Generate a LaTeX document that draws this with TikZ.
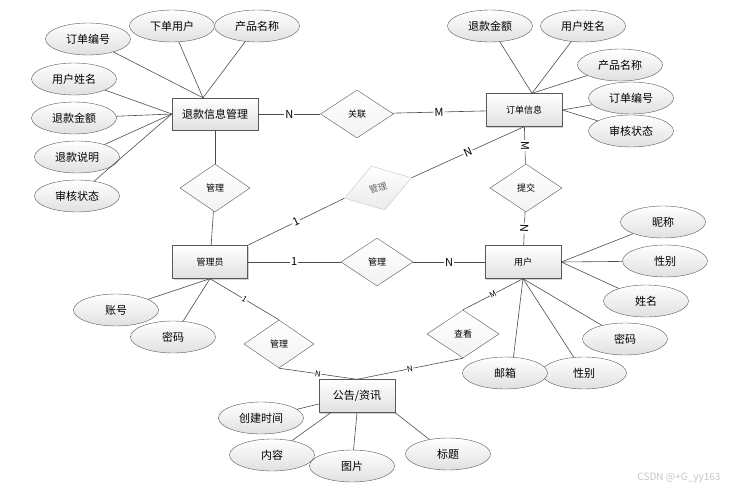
\documentclass[tikz,border=0pt]{standalone}
\usepackage{fontspec}
\setmainfont{Noto Sans CJK SC}
\usetikzlibrary{shapes.geometric, shadows}
\tikzset{
    attr/.style={ellipse, draw=gray!70!black, top color=white, bottom color=black!12,
        minimum width=85pt, minimum height=32pt, inner sep=0pt, font=\fontsize{11}{13}\selectfont},
    entity/.style={rectangle, draw=gray!70!black, top color=white, bottom color=black!12,
        drop shadow={shadow xshift=1.3pt, shadow yshift=-1.3pt, fill=black!35},
        minimum width=76pt, minimum height=33pt, inner sep=0pt, font=\fontsize{9}{11}\selectfont},
    rel/.style={diamond, draw=gray!70!black, top color=white, bottom color=black!5,
        minimum width=72pt, minimum height=48pt, inner sep=0pt, font=\fontsize{9}{11}\selectfont},
    link/.style={draw=gray!60!black, line width=0.6pt},
    card/.style={fill=white, inner sep=1pt, sloped, font=\fontsize{11}{13}\selectfont},
    smallcard/.style={fill=white, inner sep=0.5pt, sloped, font=\fontsize{8}{9}\selectfont},
}
\begin{document}
\begin{tikzpicture}[x=1pt, y=-1pt]
\useasboundingbox (0,0) rectangle (736,492);

% Entitaeten
\node[entity, minimum width=86pt, minimum height=32pt, font=\fontsize{11}{13}\selectfont] (tkxx) at (215,114) {退款信息管理};
\node[entity] (ddxx) at (524,110) {订单信息};
\node[entity, minimum width=75pt] (gly) at (210,262) {管理员};
\node[entity] (yh) at (523,262) {用户};
\node[entity, font=\fontsize{11}{13}\selectfont] (ggzx) at (357,396) {公告/资讯};

% Beziehungen
\node[rel, minimum width=73pt] (guanlian) at (357,114) {关联};
\node[rel, minimum width=70pt] (guanliA) at (215,188) {管理};
\node[rel, minimum width=70pt, minimum height=46pt, rotate=17, draw=gray!45, bottom color=black!8,
    text=gray!80!black] (guanliB) at (378,188) {管理};
\node[rel] (tijiao) at (526,188) {提交};
\node[rel] (guanliC) at (377,262) {管理};
\node[rel, minimum width=70pt] (guanliD) at (279,344) {管理};
\node[rel] (chakan) at (463,334) {查看};

% Attribute: 退款信息管理
\node[attr] (tkDdbh) at (88,39) {订单编号};
\node[attr] (tkXdyh) at (172,26) {下单用户};
\node[attr] (tkCpmc) at (257,26) {产品名称};
\node[attr] (tkYhxm) at (74,79) {用户姓名};
\node[attr] (tkTkje) at (74,118) {退款金额};
\node[attr] (tkTksm) at (77,157) {退款说明};
\node[attr] (tkShzt) at (77,196) {审核状态};

% Attribute: 订单信息
\node[attr] (ddTkje) at (490,26) {退款金额};
\node[attr] (ddYhxm) at (583,26) {用户姓名};
\node[attr] (ddCpmc) at (620,65) {产品名称};
\node[attr] (ddDdbh) at (631,98) {订单编号};
\node[attr] (ddShzt) at (631,131) {审核状态};

% Attribute: 用户
\node[attr] (yhNc) at (663,222) {昵称};
\node[attr] (yhXbA) at (665,261) {性别};
\node[attr] (yhXm) at (646,301) {姓名};
\node[attr] (yhMm) at (625,339) {密码};
\node[attr] (yhXbB) at (584,373) {性别};
\node[attr] (yhYx) at (505,373) {邮箱};

% Attribute: 管理员
\node[attr] (glyZh) at (116,310) {账号};
\node[attr] (glyMm) at (173,337) {密码};

% Attribute: 公告/资讯
\node[attr] (ggCjsj) at (261,418) {创建时间};
\node[attr] (ggBt) at (448,454) {标题};
\node[attr] (ggNr) at (272,455) {内容};
\node[attr] (ggTp) at (352,466) {图片};

% Attributlinien
\foreach \a in {tkDdbh, tkXdyh, tkCpmc}
    \draw[link] (\a) -- ([xshift=-12pt]tkxx.north);
\foreach \a in {tkYhxm, tkTkje, tkTksm, tkShzt}
    \draw[link] (\a) -- (tkxx.west);
\foreach \a in {ddTkje, ddYhxm, ddCpmc}
    \draw[link] (\a) -- ([xshift=8pt]ddxx.north);
\foreach \a in {ddDdbh, ddShzt}
    \draw[link] (\a) -- (ddxx.east);
\foreach \a in {yhNc, yhXbA, yhXm}
    \draw[link] (\a) -- (yh.east);
\foreach \a in {yhMm, yhXbB}
    \draw[link] (\a) -- (yh.south);
\draw[link] (yhYx.62) -- (yh.south);
\foreach \a in {glyZh, glyMm}
    \draw[link] (\a) -- (gly.south);
\draw[link] (ggCjsj) -- ([yshift=-8pt]ggzx.west);
\draw[link] (ggNr) -- ([xshift=12pt]ggzx.south west);
\draw[link] (ggTp) -- (ggzx.south);
\draw[link] (ggBt) -- (ggzx.south east);

% Beziehungslinien
\draw[link] (tkxx) -- node[card] {N} (guanlian);
\draw[link] (guanlian) -- node[card] {M} (ddxx);
\draw[link] (tkxx) -- (guanliA);
\draw[link] (guanliA) -- (gly);
\draw[link] (gly.north east) -- node[card] {1} (guanliB.west);
\draw[link] (guanliB.east) -- node[card] {N} (ddxx.south);
\draw[link] (ddxx) -- node[card] {M} (tijiao);
\draw[link] (tijiao) -- node[card] {N} (yh);
\draw[link] (gly) -- node[card] {1} (guanliC);
\draw[link] (guanliC) -- node[card] {N} (yh);
\draw[link] (gly.south) -- node[smallcard] {1} (guanliD.north);
\draw[link] (guanliD.south) -- node[smallcard] {N} (ggzx.north);
\draw[link] (chakan.south) -- node[smallcard] {N} (ggzx.north);
\draw[link] (chakan.north) -- node[smallcard] {M} (yh.south);

% Wasserzeichen
\node[anchor=east, text=gray!45, font=\fontsize{10}{12}\selectfont] (wm) at (724,478) {CSDN @+G\_yy163};
\end{tikzpicture}
\end{document}
